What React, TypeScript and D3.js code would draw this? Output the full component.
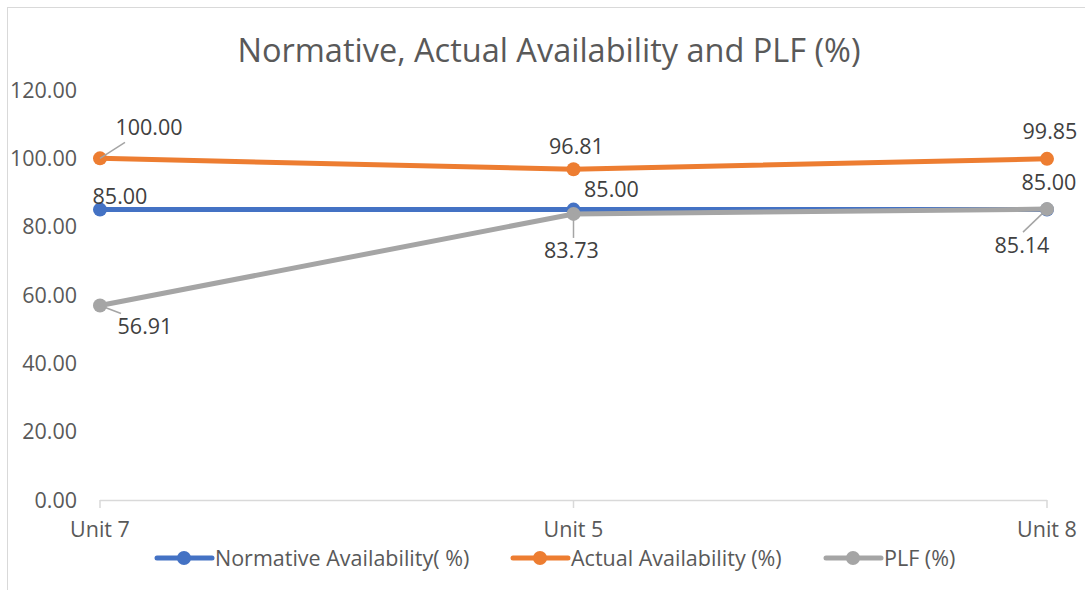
import React from 'react';
import * as d3 from 'd3';

const categories = ['Unit 7', 'Unit 5', 'Unit 8'];
const normative = [85.0, 85.0, 85.0];
const actual = [100.0, 96.81, 99.85];
const plf = [56.91, 83.73, 85.14];
const yTicks = [0, 20, 40, 60, 80, 100, 120];

const FONT = '"Open Sans", "DejaVu Sans", sans-serif';
const TEXT = '#595959';
const FS = 21.5;

const width = 1085;
const height = 590;

// label offsets relative to the point (dx, dy of text centre) and optional leader line
const labelPos: Record<string, { dx: number; dy: number; leader?: boolean }[]> = {
  normative: [
    { dx: 20, dy: -13 },
    { dx: 38, dy: -20 },
    { dx: 2, dy: -27 },
  ],
  actual: [
    { dx: 49, dy: -31, leader: true },
    { dx: 3, dy: -23 },
    { dx: 3, dy: -27 },
  ],
  plf: [
    { dx: 45, dy: 21, leader: true },
    { dx: -2, dy: 37, leader: true },
    { dx: -25, dy: 36, leader: true },
  ],
};

const series = [
  { key: 'normative', name: 'Normative Availability( %)', values: normative, color: '#4472C4' },
  { key: 'actual', name: 'Actual Availability (%)', values: actual, color: '#ED7D31' },
  { key: 'plf', name: 'PLF (%)', values: plf, color: '#A5A5A5' },
];

const legendX = [157, 513, 826];

export default function App() {
  const x = d3.scalePoint<string>().domain(categories).range([100, 1047]);
  const y = d3.scaleLinear().domain([0, 120]).range([500, 90]);
  const line = d3
    .line<number>()
    .x((_, i) => x(categories[i]) as number)
    .y((d) => y(d));

  return (
    <svg
      width={width}
      height={height}
      style={{ position: 'absolute', left: 0, top: 0, background: '#fff', fontFamily: FONT }}
    >
      {/* chart border */}
      <line x1={7} x2={width} y1={7.5} y2={7.5} stroke="#d9d9d9" />
      <line x1={7.5} x2={7.5} y1={7} y2={height} stroke="#d9d9d9" />

      <text x={549} y={62} textAnchor="middle" fontSize={32.5} fill={TEXT}>
        Normative, Actual Availability and PLF (%)
      </text>

      {/* y axis labels */}
      {yTicks.map((t) => (
        <text key={t} x={77} y={y(t) + 7.5} textAnchor="end" fontSize={FS} fill={TEXT}>
          {t.toFixed(2)}
        </text>
      ))}

      {/* x axis */}
      <line x1={100} x2={1047} y1={500.5} y2={500.5} stroke="#d9d9d9" strokeWidth={1.5} />
      {categories.map((c) => (
        <g key={c}>
          <line x1={x(c)} x2={x(c)} y1={500} y2={508} stroke="#d9d9d9" strokeWidth={1.5} />
          <text x={x(c)} y={537} textAnchor="middle" fontSize={FS} fill={TEXT}>
            {c}
          </text>
        </g>
      ))}

      {/* series lines and markers */}
      {series.map((s) => (
        <g key={s.key}>
          <path d={line(s.values) || ''} fill="none" stroke={s.color} strokeWidth={5} strokeLinecap="round" />
          {s.values.map((v, i) => (
            <circle key={i} cx={x(categories[i])} cy={y(v)} r={7} fill={s.color} />
          ))}
        </g>
      ))}

      {/* data labels */}
      {series.map((s) =>
        s.values.map((v, i) => {
          const px = x(categories[i]) as number;
          const py = y(v);
          const p = labelPos[s.key][i];
          const tx = px + p.dx;
          const ty = py + p.dy;
          let leader = null;
          if (p.leader) {
            const ex = p.dx > 20 ? tx - 24 : p.dx < -20 ? tx + 1 : tx + 2;
            const ey = p.dy < 0 ? ty + 15 : ty - 13;
            leader = <line x1={px} y1={py} x2={ex} y2={ey} stroke="#A5A5A5" strokeWidth={1.5} />;
          }
          return (
            <g key={s.key + i}>
              {leader}
              <text x={tx} y={ty + 7.5} textAnchor="middle" fontSize={FS} fill="#404040">
                {v.toFixed(2)}
              </text>
            </g>
          );
        })
      )}

      {/* legend */}
      {series.map((s, i) => (
        <g key={s.key} transform={`translate(${legendX[i]},558)`}>
          <line x1={0} x2={55} y1={0} y2={0} stroke={s.color} strokeWidth={5} strokeLinecap="round" />
          <circle cx={27} cy={0} r={7} fill={s.color} />
          <text x={58} y={7.5} fontSize={FS} fill={TEXT}>
            {s.name}
          </text>
        </g>
      ))}
    </svg>
  );
}
